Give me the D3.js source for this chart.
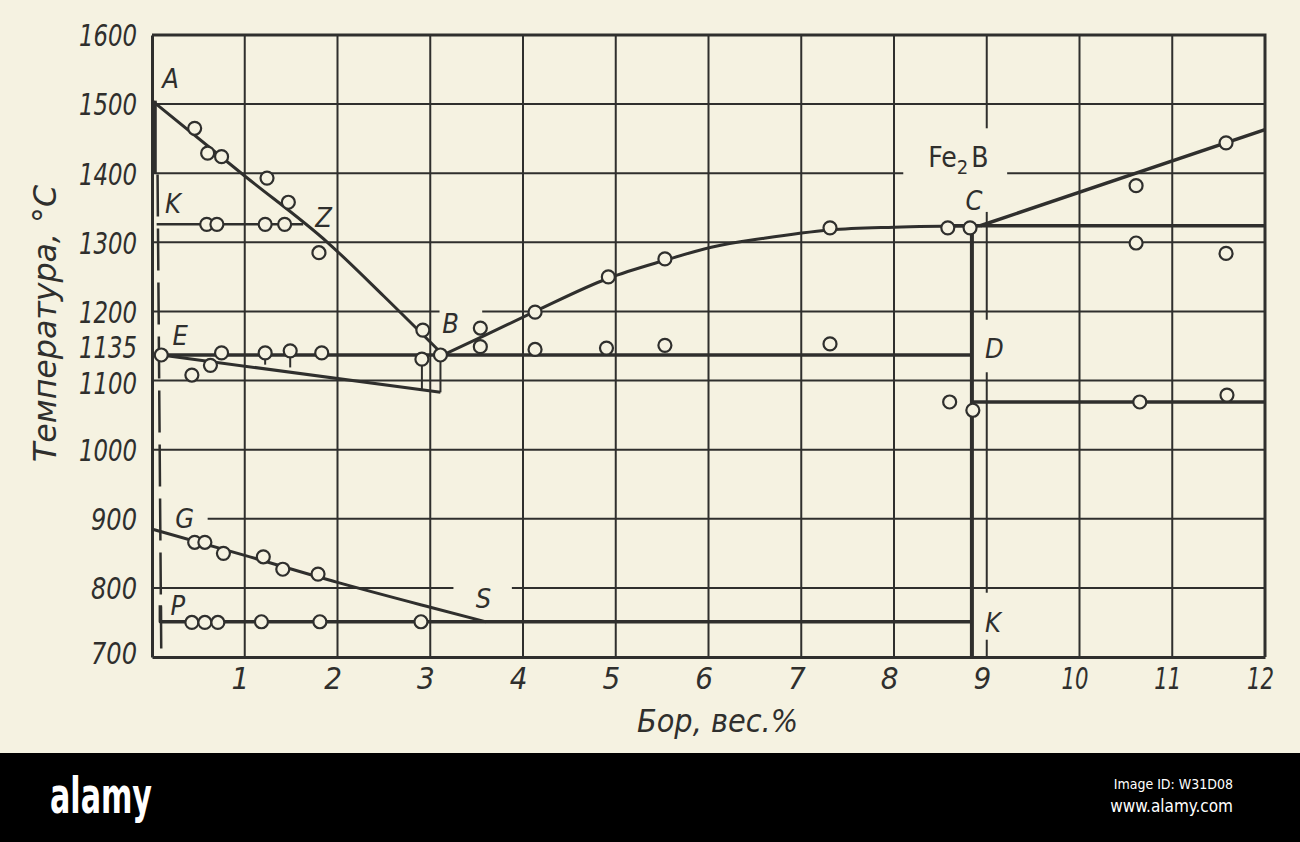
<!DOCTYPE html>
<html><head><meta charset="utf-8">
<script src="https://cdn.jsdelivr.net/npm/d3@7"></script>
<style>
html,body{margin:0;padding:0;background:#f5f2e1;}
svg{display:block;}
text{font-family:"Liberation Sans Narrow","DejaVu Sans Condensed","Liberation Sans",sans-serif;}
</style></head>
<body><svg id="c" width="1300" height="842"></svg>
<script>
// ---------- data (boron wt.%, temperature °C) ----------
const xTicks = [1,2,3,4,5,6,7,8,9,10,11,12];
const yTicks = [1600,1500,1400,1300,1200,1135,1100,1000,900,800,700];
const gridX = [1,2,3,4,5,6,7,8,9,10,11];
const gridY = [1500,1400,1300,1200,1100,1000,900,800];
const gridYGaps = [[1200,3.1,3.56],[900,0,0.6],[800,3.25,3.88],[1400,8.1,9.22]];
const gridXGaps = [[9,1344,1465],[9,1112,1188],[9,725,793]];

const liquidusAB = [[0,1505],[1,1396],[1.9,1299],[2.5,1222],[3.14,1137]];
const liquidusBC = [[3.14,1137],[3.6,1166],[4.13,1200],[4.92,1248],[5.53,1274],[6.03,1293],[6.6,1306],[7.31,1318],[8.0,1322],[8.93,1324]];
const liquidusC = [[8.93,1324],[12,1463]];
const line1324 = [[8.6,1324],[12,1324]];
const lineKZ = [[0.05,1326],[1.63,1326]];
const eutectic = [[0,1137],[8.84,1137]];
const solidusE = [[0.1,1137],[3.11,1083]];
const tieLines = [[[2.91,1131],[2.91,1087]],[[3.11,1137],[3.11,1083]],[[1.22,1137],[1.22,1123]],[[1.49,1137],[1.49,1119]]];
const compound = [[8.84,1324],[8.84,700]];
const line1069 = [[8.84,1069],[12,1069]];
const lineGS = [[0,885],[1,847],[2,808],[3,772],[3.6,751]];
const eutectoid = [[0.09,775],[0.09,751],[8.84,751]];
const solvusSolid = [[0.03,1505],[0.03,1400]];
const solvusDashed = [[0.06,1398],[0.1,705]];

const ptsAB = [[0.46,1465],[0.6,1429],[0.75,1424],[1.24,1393],[1.47,1358],[1.8,1285],[2.92,1173]];
const ptsK = [[0.59,1326],[0.7,1326],[1.22,1326],[1.43,1326]];
const ptsE = [[0.1,1137],[0.75,1140],[1.22,1140],[1.49,1143],[1.83,1140],[2.91,1131],[3.11,1137],[3.54,1149],[4.13,1145],[4.9,1147],[5.53,1151],[7.31,1153]];
const ptsSol = [[0.43,1108],[0.63,1122]];
const ptsBC = [[3.54,1176],[4.13,1199],[4.92,1250],[5.53,1276],[7.31,1321],[8.58,1321],[8.82,1321]];
const ptsRight = [[10.61,1382],[11.58,1444],[10.61,1299],[11.58,1284]];
const ptsD = [[8.6,1069],[8.85,1057],[10.65,1069],[11.59,1079]];
const ptsGS = [[0.46,866],[0.57,866],[0.77,850],[1.2,845],[1.41,827],[1.79,820]];
const ptsP = [[0.43,750],[0.57,750],[0.71,750],[1.18,751],[1.81,751],[2.9,751]];

const pointLabels = [
  {t:"A",x:0.11,y:1523},{t:"K",x:0.14,y:1342},{t:"Z",x:1.76,y:1322},
  {t:"B",x:3.13,y:1169},{t:"E",x:0.22,y:1151},{t:"G",x:0.25,y:887},
  {t:"P",x:0.2,y:761},{t:"S",x:3.49,y:771},{t:"C",x:8.77,y:1347},
  {t:"D",x:8.98,y:1133},{t:"K",x:8.98,y:736}
];
const xTitle = "Бор, вес.%";
const yTitle = "Температура, °С";

// ---------- drawing ----------
const svg = d3.select("#c");
const BG = "#f5f2e1", INK = "#2f2f2d";
const FONT = '"Liberation Sans Narrow","DejaVu Sans Condensed",sans-serif';
svg.append("rect").attr("width",1300).attr("height",753).attr("fill",BG);

const x = d3.scaleLinear().domain([0,12]).range([152,1265]);
const y = d3.scaleLinear().domain([700,1600]).range([657,35]);
const line = d3.line().x(d=>x(d[0])).y(d=>y(d[1]));
const curve = d3.line().x(d=>x(d[0])).y(d=>y(d[1])).curve(d3.curveMonotoneX);

function segs(lo, hi, gaps){
  gaps = gaps.slice().sort((a,b)=>a[0]-b[0]);
  const out=[]; let s=lo;
  gaps.forEach(g=>{ if(g[0]>s) out.push([s,g[0]]); s=Math.max(s,g[1]); });
  if(s<hi) out.push([s,hi]);
  return out;
}
const grid = svg.append("g").attr("stroke",INK).attr("stroke-width",2).attr("fill","none");
gridY.forEach(v=>{
  const gaps = gridYGaps.filter(g=>g[0]===v).map(g=>[g[1],g[2]]);
  segs(0,12,gaps).forEach(s=>grid.append("path").attr("d",line([[s[0],v],[s[1],v]])));
});
gridX.forEach(v=>{
  const gaps = gridXGaps.filter(g=>g[0]===v).map(g=>[g[1],g[2]]);
  segs(700,1600,gaps).forEach(s=>grid.append("path").attr("d",line([[v,s[0]],[v,s[1]]])));
});
// axes
const xAxis = d3.axisBottom(x).tickValues(xTicks).tickSize(0).tickFormat(d3.format("d"));
const yAxis = d3.axisLeft(y).tickValues(yTicks).tickSize(0).tickFormat(d3.format("d"));
const gx = svg.append("g").attr("transform",`translate(0,${y(700)})`).call(xAxis);
const gy = svg.append("g").attr("transform",`translate(${x(0)},0)`).call(yAxis);
[gx,gy].forEach(g=>{
  g.select(".domain").attr("stroke",INK).attr("stroke-width",3);
  g.selectAll("text").attr("fill",INK).attr("font-style","italic").attr("font-size",31)
   .attr("font-family",FONT);
});
gx.selectAll("text").attr("dy","0.95em").attr("dx",-5)
  .attr("textLength",d=>d>=10?27:null).attr("lengthAdjust","spacingAndGlyphs");
gy.selectAll("text").attr("x",-15).attr("dy","0.36em").attr("font-size",30)
  .attr("textLength",d=>d>=1000?58:46).attr("lengthAdjust","spacingAndGlyphs")
  .attr("transform",d=>d===1135?"translate(0,-10)":(d===1100?"translate(0,2)":(d===700?"translate(0,-4)":null)));
svg.append("path").attr("d",line([[0,1600],[12,1600],[12,700]])).attr("fill","none").attr("stroke",INK).attr("stroke-width",3);

const dl = svg.append("g").attr("fill","none").attr("stroke",INK).attr("stroke-linejoin","round");
dl.append("path").attr("d",curve(liquidusAB)).attr("stroke-width",3);
dl.append("path").attr("d",curve(liquidusBC)).attr("stroke-width",3);
dl.append("path").attr("d",line(liquidusC)).attr("stroke-width",3.5);
dl.append("path").attr("d",line(line1324)).attr("stroke-width",3.5);
dl.append("path").attr("d",line(lineKZ)).attr("stroke-width",2.5);
dl.append("path").attr("d",line(eutectic)).attr("stroke-width",3.5);
dl.append("path").attr("d",line(solidusE)).attr("stroke-width",3);
tieLines.forEach(t=>dl.append("path").attr("d",line(t)).attr("stroke-width",2));
dl.append("path").attr("d",line(compound)).attr("stroke-width",4);
dl.append("path").attr("d",line(line1069)).attr("stroke-width",3.5);
dl.append("path").attr("d",curve(lineGS)).attr("stroke-width",3);
dl.append("path").attr("d",line(eutectoid)).attr("stroke-width",3.5);
dl.append("path").attr("d",line(solvusSolid)).attr("stroke-width",4);
dl.append("path").attr("d",line(solvusDashed)).attr("stroke-width",2.5).attr("stroke-dasharray","42,12");

const allPts = [].concat(ptsAB,ptsK,ptsE,ptsSol,ptsBC,ptsRight,ptsD,ptsGS,ptsP);
svg.append("g").selectAll("circle").data(allPts).join("circle")
  .attr("cx",d=>x(d[0])).attr("cy",d=>y(d[1])).attr("r",6.5)
  .attr("fill",BG).attr("stroke",INK).attr("stroke-width",2.2);

svg.append("g").selectAll("text").data(pointLabels).join("text")
  .attr("x",d=>x(d.x)).attr("y",d=>y(d.y))
  .attr("font-size",27).attr("font-style","italic").attr("fill",INK).text(d=>d.t);

const fe = svg.append("text").attr("x",x(8.37)).attr("y",y(1409)).attr("font-size",28).attr("fill",INK);
fe.append("tspan").text("Fe");
fe.append("tspan").attr("font-size",20).attr("dy",7).text("2");
fe.append("tspan").attr("dy",-7).attr("dx",3).text("B");

svg.append("text").attr("x",637).attr("y",732).attr("font-size",32).attr("font-style","italic")
  .attr("fill",INK).attr("textLength",161).attr("lengthAdjust","spacingAndGlyphs").text(xTitle);
svg.append("text").attr("transform","translate(56,462) rotate(-90)").attr("font-size",32)
  .attr("font-style","italic").attr("fill",INK).attr("textLength",277)
  .attr("lengthAdjust","spacingAndGlyphs").text(yTitle);

// bottom band
svg.append("rect").attr("y",753).attr("width",1300).attr("height",89).attr("fill","#000");
svg.append("text").attr("x",50).attr("y",813).attr("fill","#fff").attr("font-weight","bold")
  .attr("font-size",49).attr("textLength",102).attr("lengthAdjust","spacingAndGlyphs").text("alamy");
svg.append("text").attr("x",1233).attr("y",789).attr("text-anchor","end").attr("fill","#fff")
  .attr("font-size",14).text("Image ID: W31D08");
svg.append("text").attr("x",1233).attr("y",812).attr("text-anchor","end").attr("fill","#fff")
  .attr("font-size",17).text("www.alamy.com");
</script></body></html>
